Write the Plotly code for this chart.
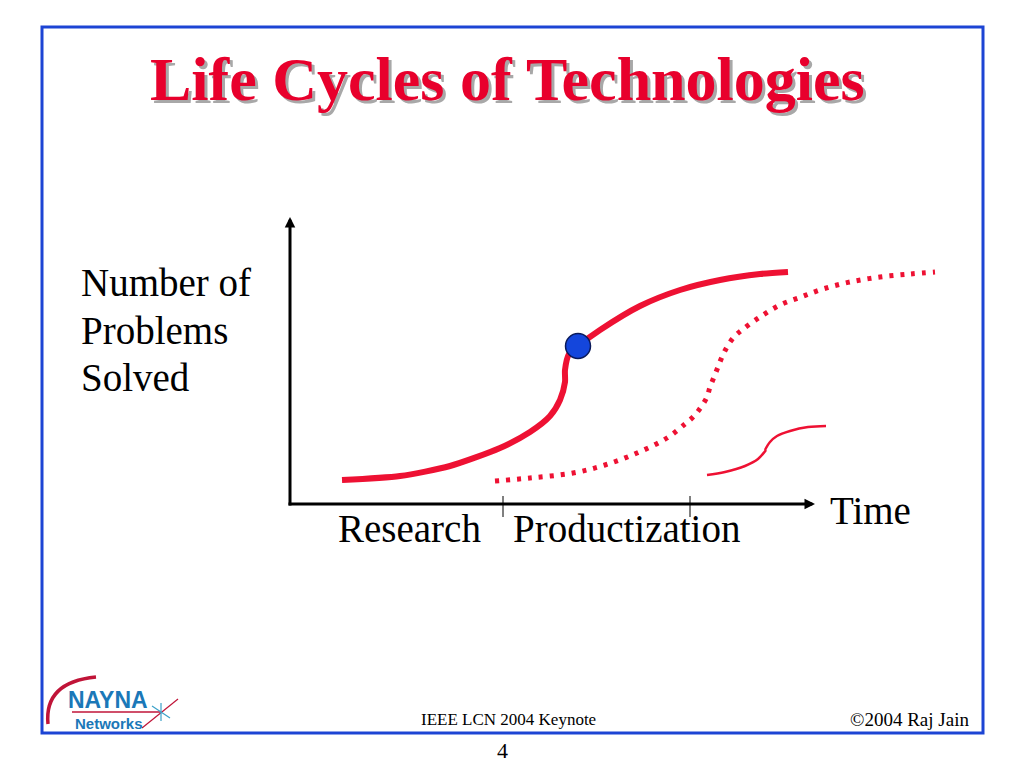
import plotly.graph_objects as go

# ---------------- data (time units / problems-solved units) ----------------
research_time = [52, 110, 160, 210, 240, 260, 270, 275, 275, 279, 288, 310, 350, 390, 430, 470, 498]
research_prob = [24, 28, 38, 56, 72, 88, 104, 122, 134, 150, 158, 174, 198, 214, 224, 230, 232]

product_time = [205, 240, 283, 315, 347, 377, 395, 404, 411, 417, 420, 424, 428, 432,
                437, 444, 452, 470, 490, 511, 533, 560, 590, 620, 645]
product_prob = [23, 26, 31, 39, 51, 66, 80, 88, 97, 107, 117, 127, 137, 147,
                157, 167, 174, 187, 199, 207, 215, 222, 227, 230, 232]

next_time_low = [417, 435, 455, 468, 476]
next_prob_low = [29, 32, 38, 45, 54]
next_time_high = [475, 480, 487, 500, 518, 536]
next_prob_high = [54, 62, 68, 73, 77, 78]

current_time = [288]
current_prob = [158]

phase_ticks = [213, 400]
phase_labels = ["Research", "Productization"]
phase_label_time = [119, 336]

RED = "#ee1133"

# pixel -> paper helpers for slide decoration
W, H = 1024, 768
def px(x):
    return x / W
def py(y):
    return 1 - y / H

fig = go.Figure()

fig.add_trace(go.Scatter(x=research_time, y=research_prob, mode="lines",
                         line=dict(color=RED, width=6, shape="spline", smoothing=0.7),
                         hoverinfo="skip"))
fig.add_trace(go.Scatter(x=product_time, y=product_prob, mode="lines",
                         line=dict(color=RED, width=5, shape="spline", dash="4px,7px"),
                         hoverinfo="skip"))
fig.add_trace(go.Scatter(x=next_time_low, y=next_prob_low, mode="lines",
                         line=dict(color=RED, width=2.5, shape="spline"), hoverinfo="skip"))
fig.add_trace(go.Scatter(x=next_time_high, y=next_prob_high, mode="lines",
                         line=dict(color=RED, width=2.5, shape="spline"), hoverinfo="skip"))
fig.add_trace(go.Scatter(x=current_time, y=current_prob, mode="markers",
                         marker=dict(size=25, color="#1446dc", line=dict(color="#0a1a5a", width=1.5)),
                         hoverinfo="skip"))

shapes = []
# phase ticks on the time axis
for t in phase_ticks:
    shapes.append(dict(type="line", xref="x", yref="y", x0=t, x1=t, y0=8, y1=-13,
                       line=dict(color="black", width=1)))
# slide border
shapes.append(dict(type="rect", xref="paper", yref="paper", x0=px(42), x1=px(983),
                   y0=py(733), y1=py(27), line=dict(color="#1c44d4", width=3)))
# logo arc and strokes
shapes.append(dict(type="path", xref="paper", yref="paper",
                   path=f"M {px(48)},{py(724)} Q {px(44)},{py(682)} {px(96)},{py(677)}",
                   line=dict(color="#c01438", width=3.5)))
shapes.append(dict(type="line", xref="paper", yref="paper", x0=px(72), x1=px(160),
                   y0=py(712), y1=py(712), line=dict(color="#c01438", width=1.5)))
shapes.append(dict(type="line", xref="paper", yref="paper", x0=px(142), x1=px(178),
                   y0=py(728), y1=py(699), line=dict(color="#c01438", width=1.2)))
shapes.append(dict(type="line", xref="paper", yref="paper", x0=px(152), x1=px(170),
                   y0=py(706), y1=py(718), line=dict(color="#3aa0c8", width=1.2)))
shapes.append(dict(type="line", xref="paper", yref="paper", x0=px(161), x1=px(161),
                   y0=py(703), y1=py(721), line=dict(color="#3aa0c8", width=1.2)))

annotations = []
# axes with arrowheads
annotations.append(dict(x=0, y=287, ax=0, ay=-3, xref="x", yref="y", axref="x", ayref="y",
                        text="", showarrow=True, arrowhead=2, arrowsize=0.7, arrowwidth=3,
                        arrowcolor="black"))
annotations.append(dict(x=525, y=0, ax=-3, ay=0, xref="x", yref="y", axref="x", ayref="y",
                        text="", showarrow=True, arrowhead=2, arrowsize=0.7, arrowwidth=3,
                        arrowcolor="black"))

SERIF = "Liberation Serif, Times New Roman, serif"
for txt, t in zip(phase_labels, phase_label_time):
    annotations.append(dict(x=t, y=-24, xref="x", yref="y", text=txt, showarrow=False,
                            xanchor="center", yanchor="middle",
                            font=dict(family=SERIF, size=39, color="black")))
annotations.append(dict(x=580, y=-6, xref="x", yref="y", text="Time", showarrow=False,
                        xanchor="center", yanchor="middle",
                        font=dict(family=SERIF, size=39, color="black")))
for txt, yy in zip(["Number of", "Problems", "Solved"], [282, 330, 377]):
    annotations.append(dict(x=px(79), y=py(yy), xref="paper", yref="paper", text=txt,
                            showarrow=False, xanchor="left", yanchor="middle",
                            font=dict(family=SERIF, size=39, color="black")))

# title with shadow
title = "<b>Life Cycles of Technologies</b>"
annotations.append(dict(x=px(510), y=py(82), xref="paper", yref="paper", text=title,
                        showarrow=False, xanchor="center", yanchor="middle",
                        font=dict(family=SERIF, size=62, color="#a8a8a8")))
annotations.append(dict(x=px(507), y=py(79), xref="paper", yref="paper", text=title,
                        showarrow=False, xanchor="center", yanchor="middle",
                        font=dict(family=SERIF, size=62, color="#e8002c")))

# footer
annotations.append(dict(x=px(508), y=py(719), xref="paper", yref="paper",
                        text="IEEE LCN 2004 Keynote", showarrow=False,
                        xanchor="center", yanchor="middle",
                        font=dict(family=SERIF, size=17, color="black")))
annotations.append(dict(x=px(971), y=py(719), xref="paper", yref="paper",
                        text="©2004 Raj Jain", showarrow=False,
                        xanchor="right", yanchor="middle",
                        font=dict(family=SERIF, size=19, color="black")))
annotations.append(dict(x=px(502), y=py(750), xref="paper", yref="paper",
                        text="4", showarrow=False, xanchor="center", yanchor="middle",
                        font=dict(family=SERIF, size=22, color="black")))
# logo text
SANS = "Liberation Sans, Arial, sans-serif"
annotations.append(dict(x=px(66), y=py(700), xref="paper", yref="paper",
                        text="<b>NAYNA</b>", showarrow=False, xanchor="left", yanchor="middle",
                        font=dict(family=SANS, size=23, color="#1b78b8")))
annotations.append(dict(x=px(73), y=py(723), xref="paper", yref="paper",
                        text="<b>Networks</b>", showarrow=False, xanchor="left", yanchor="middle",
                        font=dict(family=SANS, size=15, color="#1b78b8")))

fig.update_layout(
    width=W, height=H,
    margin=dict(l=0, r=0, t=0, b=0),
    paper_bgcolor="white", plot_bgcolor="white",
    showlegend=False,
    xaxis=dict(range=[-290, 734], visible=False, fixedrange=True),
    yaxis=dict(range=[-264, 504], visible=False, fixedrange=True),
    shapes=shapes, annotations=annotations,
)

fig.write_html("out.html", config={"displayModeBar": False},
               post_script="document.body.style.margin='0px';document.body.style.overflow='hidden';")
